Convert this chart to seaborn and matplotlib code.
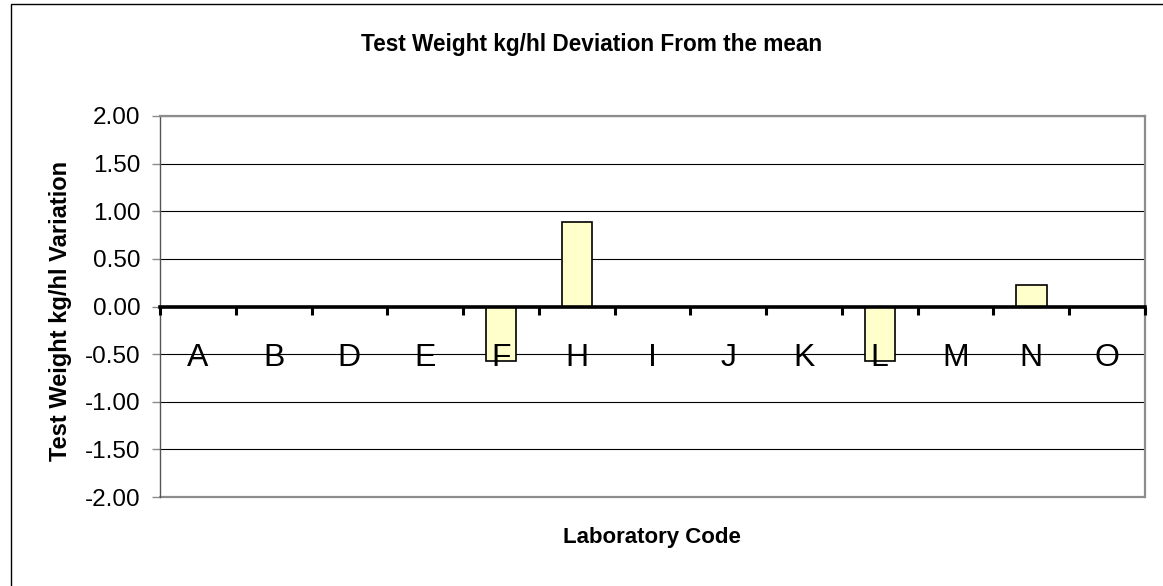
import matplotlib
matplotlib.use("Agg")
import matplotlib.pyplot as plt
from matplotlib.patches import Rectangle
from matplotlib.ticker import FixedLocator, MultipleLocator, FormatStrFormatter
import seaborn as sns
import pandas as pd

# data
lab_codes = ["A", "B", "D", "E", "F", "H", "I", "J", "K", "L", "M", "N", "O"]
deviation = [0.0, 0.0, 0.0, 0.0, -0.57, 0.89, 0.0, 0.0, 0.0, -0.57, 0.0, 0.23, 0.0]

title = "Test Weight kg/hl Deviation From the mean"
y_label = "Test Weight kg/hl Variation"
x_label = "Laboratory Code"

sns.set_theme(style="white")
plt.rcParams["font.family"] = ["Liberation Sans", "DejaVu Sans"]
plt.rcParams["text.color"] = "black"
plt.rcParams["xtick.color"] = "black"
plt.rcParams["ytick.color"] = "black"

df = pd.DataFrame({"code": lab_codes, "dev": deviation})

fig = plt.figure(figsize=(11.63, 5.86), dpi=100)
ax = fig.add_axes([160 / 1163, 1 - 497 / 586, 985 / 1163, 381 / 586])

sns.barplot(data=df, x="code", y="dev", order=lab_codes, color="#FFFFCC",
            saturation=1, width=0.4, edgecolor="black", linewidth=1.2, ax=ax)

ax.set_ylim(-2, 2)
ax.set_xlim(-0.5, len(lab_codes) - 0.5)
ax.yaxis.set_major_locator(MultipleLocator(0.5))
ax.yaxis.set_major_formatter(FormatStrFormatter("%.2f"))
ax.set_axisbelow(True)
ax.grid(axis="y", color="black", linewidth=0.8)
ax.grid(axis="x", visible=False)
# category labels sit on top of the bars, gridlines stay behind
ax.xaxis.set_zorder(3)

# zero axis carrying the category ticks
ax.spines["bottom"].set_position(("data", 0))
ax.spines["bottom"].set_color("black")
ax.spines["bottom"].set_linewidth(2.6)
ax.spines["bottom"].set_zorder(3)
for side in ["top", "right"]:
    ax.spines[side].set_color("#8c8c8c")
    ax.spines[side].set_linewidth(1.6)
ax.spines["left"].set_color("#555555")
ax.spines["left"].set_linewidth(1.0)
ax.plot([0, 1], [0, 0], transform=ax.transAxes, color="#8c8c8c", lw=1.6,
        clip_on=False, zorder=2)

ax.xaxis.set_minor_locator(FixedLocator([i - 0.5 for i in range(len(lab_codes) + 1)]))
ax.tick_params(axis="x", which="minor", direction="out", length=6, width=2.2,
               color="black", bottom=True)
ax.tick_params(axis="x", which="major", length=0, pad=26, labelsize=23,
               labelcolor="black")
ax.tick_params(axis="y", which="major", direction="out", length=6, width=1,
               color="#8c8c8c", left=True, labelsize=17.5, pad=8,
               labelcolor="black")
ax.set_xlabel("")
ax.set_ylabel("")

fig.text(592 / 1163, 1 - 45 / 586, title, ha="center", va="center",
         fontsize=16.3, fontweight="bold", color="black")
fig.text(652 / 1163, 1 - 537 / 586, x_label, ha="center", va="center",
         fontsize=16, fontweight="bold", color="black")
fig.text(61 / 1163, 1 - 311 / 586, y_label, ha="center", va="center",
         rotation=90, fontsize=17, fontweight="bold", color="black")

# chart-area border (right/bottom edges lie outside the canvas)
fig.add_artist(Rectangle((11 / 1163, -0.05), 1.1, 1 - 4 / 586 + 0.05,
                         transform=fig.transFigure, fill=False,
                         edgecolor="black", linewidth=1.0))

fig.savefig("out.png", dpi=100, facecolor="white")
